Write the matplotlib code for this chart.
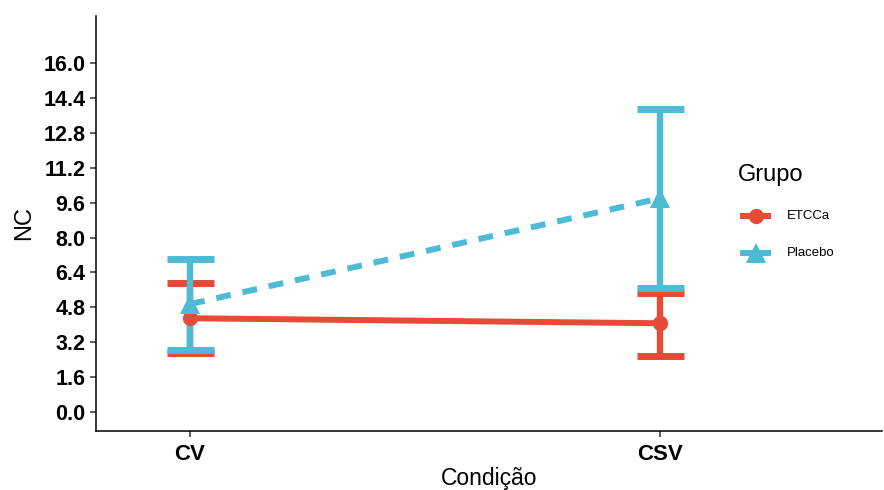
import matplotlib
matplotlib.use("Agg")
import matplotlib.pyplot as plt
from matplotlib.lines import Line2D

plt.rcParams['font.family'] = ['Liberation Sans', 'DejaVu Sans']

conditions = ["CV", "CSV"]
groups = ["ETCCa", "Placebo"]
means = {"ETCCa": [4.30, 4.07], "Placebo": [4.95, 9.80]}
lower = {"ETCCa": [2.70, 2.58], "Placebo": [2.84, 5.70]}
upper = {"ETCCa": [5.90, 5.47], "Placebo": [7.00, 13.88]}
colors = {"ETCCa": "#E64B35", "Placebo": "#4DBBD5"}
markers = {"ETCCa": "o", "Placebo": "^"}
msizes = {"ETCCa": 11, "Placebo": 14}
yticks = [0.0, 1.6, 3.2, 4.8, 6.4, 8.0, 9.6, 11.2, 12.8, 14.4, 16.0]

W, H = 884, 490
fig = plt.figure(figsize=(W / 100, H / 100), dpi=100)
ax = fig.add_axes([96 / W, 1 - 431 / H, 786 / W, (431 - 16) / H])

x = [1, 2]
cap = 0.05
for g in groups:
    c = colors[g]
    for xi, lo, hi in zip(x, lower[g], upper[g]):
        ax.plot([xi, xi], [lo, hi], color=c, lw=4.6, solid_capstyle='butt', zorder=2)
        ax.plot([xi - cap, xi + cap], [lo, lo], color=c, lw=5, solid_capstyle='butt', zorder=2)
        ax.plot([xi - cap, xi + cap], [hi, hi], color=c, lw=5, solid_capstyle='butt', zorder=2)
for g in groups:
    c = colors[g]
    if g == "Placebo":
        ax.plot(x, means[g], color=c, lw=4.3, dashes=(2.5, 2), zorder=3)
    else:
        ax.plot(x, means[g], color=c, lw=4.3, zorder=3)
for g in groups:
    ax.plot(x, means[g], linestyle='none', marker=markers[g], color=colors[g],
            markersize=msizes[g], markeredgewidth=0, zorder=4)

ax.set_xlim(0.8, 2.472)
ax.set_ylim(-0.87, 18.16)
ax.set_xticks(x)
ax.set_xticklabels(conditions, fontsize=16, fontweight='bold')
ax.set_yticks(yticks)
ax.set_yticklabels([f"{v:.1f}" for v in yticks], fontsize=15.5, fontweight='bold')
ax.set_xlabel("Condição", fontsize=16.5, labelpad=1)
ax.set_ylabel("NC", fontsize=17, labelpad=6)
for s in ['top', 'right']:
    ax.spines[s].set_visible(False)
for s in ['left', 'bottom']:
    ax.spines[s].set_linewidth(1.1)
ax.tick_params(axis='both', length=4.5, width=1.1, color='#333333', labelcolor='black')
ax.tick_params(axis='x', pad=5)
ax.tick_params(axis='y', pad=3)

# legend (drawn in figure pixel space)
def fx(px):
    return px / W
def fy(py):
    return 1 - py / H

fig.text(fx(738), fy(175), "Grupo", fontsize=17, va='center', ha='left')
rows = {"ETCCa": 216, "Placebo": 253}
for g in groups:
    yy = fy(rows[g])
    fig.add_artist(Line2D([fx(740), fx(771)], [yy, yy], color=colors[g], lw=4.3,
                          solid_capstyle='butt', transform=fig.transFigure))
    fig.add_artist(Line2D([fx(755.5)], [yy], marker=markers[g], color=colors[g],
                          markersize=msizes[g], markeredgewidth=0, linestyle='none',
                          transform=fig.transFigure))
    fig.text(fx(787), yy, g, fontsize=9.5, va='center', ha='left')

fig.savefig("out.png", dpi=100)
